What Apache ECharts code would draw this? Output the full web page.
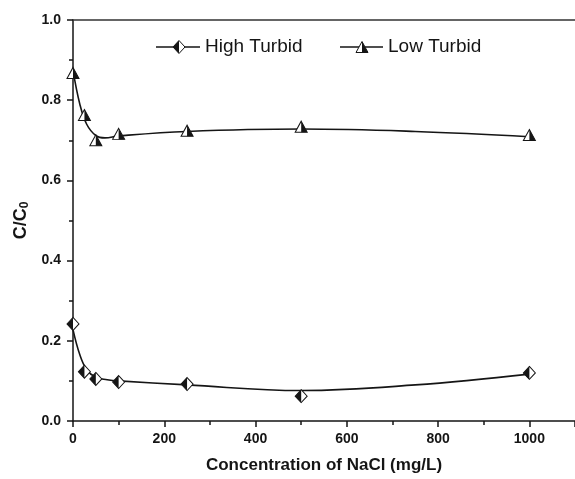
<!DOCTYPE html>
<html>
<head>
<meta charset="utf-8">
<script src="https://cdn.jsdelivr.net/npm/echarts@6/dist/echarts.min.js"></script>
<style>
  html, body { margin: 0; padding: 0; background: #fff; }
  #chart { width: 575px; height: 479px; }
</style>
</head>
<body>
<div id="chart"></div>
<script>
// measured points
const concX = [0, 25, 50, 100, 250, 500, 1000];
const highTurbid = [0.242, 0.123, 0.105, 0.097, 0.092, 0.062, 0.120];
const lowTurbid = [0.868, 0.763, 0.700, 0.716, 0.724, 0.734, 0.713];

// fitted curves
const highFitX = [0, 15, 30, 50, 75, 100, 250, 500, 750, 1000];
const highFitY = [0.228, 0.165, 0.128, 0.109, 0.103, 0.100, 0.090, 0.076, 0.090, 0.117];
const lowFitX = [0, 15, 30, 50, 70, 100, 250, 500, 750, 1000];
const lowFitY = [0.875, 0.790, 0.740, 0.712, 0.706, 0.711, 0.722, 0.728, 0.722, 0.709];

const xTicks = [0, 200, 400, 600, 800, 1000];

const pairs = (xs, ys) => xs.map((x, i) => [x, ys[i]]);
const INK = '#151515';
const FONT = 'Liberation Sans, Arial, sans-serif';

const chart = echarts.init(document.getElementById('chart'), null, { renderer: 'canvas' });

const fitLine = (name, xs, ys) => ({
  name: name,
  type: 'line',
  data: pairs(xs, ys),
  smooth: 0.4,
  symbol: 'none',
  lineStyle: { color: INK, width: 1.6 },
  z: 2,
  silent: true
});

chart.setOption({
  backgroundColor: '#fff',
  animation: false,
  textStyle: { fontFamily: FONT },
  grid: { left: 73, right: -4, top: 20, bottom: 58 },
  xAxis: [{
    type: 'value',
    min: 0,
    max: 1100,
    interval: 200,
    name: 'Concentration of NaCl (mg/L)',
    nameLocation: 'middle',
    nameGap: 36,
    nameTextStyle: { fontSize: 17, fontWeight: 'bold', color: INK, fontFamily: FONT },
    axisLine: { lineStyle: { color: INK, width: 1.5 } },
    axisTick: { length: 6, lineStyle: { color: INK, width: 1.5 } },
    minorTick: { show: true, splitNumber: 2, length: 4, lineStyle: { color: INK, width: 1.5 } },
    axisLabel: {
      margin: 11, fontSize: 14, fontWeight: 'bold', color: INK, showMaxLabel: false,
      formatter: v => xTicks.includes(v) ? String(v) : ''
    },
    splitLine: { show: false }
  }, {
    type: 'value',
    position: 'top',
    min: 0,
    max: 1100,
    axisLine: { show: true, lineStyle: { color: '#333', width: 1.5 } },
    axisTick: { show: false },
    axisLabel: { show: false },
    splitLine: { show: false }
  }],
  yAxis: {
    type: 'value',
    min: 0,
    max: 1,
    interval: 0.2,
    name: '{a|C/C}{b|0}',
    nameLocation: 'middle',
    nameGap: 40,
    nameRotate: 90,
    nameTextStyle: {
      color: INK,
      rich: {
        a: { fontSize: 18, fontWeight: 'bold', fontFamily: FONT, color: INK },
        b: { fontSize: 12, fontWeight: 'bold', fontFamily: FONT, color: INK, verticalAlign: 'bottom', padding: [8, 0, 0, 0] }
      }
    },
    axisLine: { show: true, lineStyle: { color: INK, width: 1.5 } },
    axisTick: { length: 6, lineStyle: { color: INK, width: 1.5 } },
    minorTick: { show: true, splitNumber: 2, length: 4, lineStyle: { color: INK, width: 1.5 } },
    axisLabel: { margin: 12, fontSize: 14, fontWeight: 'bold', color: INK, formatter: v => v.toFixed(1) },
    splitLine: { show: false }
  },
  series: [
    fitLine('High Turbid fit', highFitX, highFitY),
    fitLine('Low Turbid fit', lowFitX, lowFitY),
    {
      name: 'High Turbid',
      type: 'scatter',
      data: pairs(concX, highTurbid),
      symbol: 'diamond',
      symbolSize: [12, 13],
      itemStyle: { color: '#fff', borderColor: INK, borderWidth: 1, opacity: 1 },
      z: 3
    },
    {
      name: 'High Turbid half',
      type: 'scatter',
      data: pairs(concX, highTurbid),
      symbol: 'path://M5,0 L0,5 L5,10 Z',
      symbolSize: [6, 13],
      symbolOffset: [-3, 0],
      itemStyle: { color: INK, opacity: 1 },
      z: 4
    },
    {
      name: 'Low Turbid',
      type: 'scatter',
      data: pairs(concX, lowTurbid),
      symbol: 'triangle',
      symbolSize: [12, 11],
      itemStyle: { color: '#fff', borderColor: INK, borderWidth: 1, opacity: 1 },
      z: 3
    },
    {
      name: 'Low Turbid half',
      type: 'scatter',
      data: pairs(concX, lowTurbid),
      symbol: 'path://M0,0 L5,10 L0,10 Z',
      symbolSize: [6, 11],
      symbolOffset: [3, 0],
      itemStyle: { color: INK, opacity: 1 },
      z: 4
    }
  ],
  graphic: [
    // legend: High Turbid
    { type: 'line', shape: { x1: 156, y1: 47, x2: 200, y2: 47 }, style: { stroke: INK, lineWidth: 1.6 } },
    { type: 'polygon', shape: { points: [[179, 40.5], [185, 47], [179, 53.5], [173, 47]] }, style: { fill: '#fff', stroke: INK, lineWidth: 1 } },
    { type: 'polygon', shape: { points: [[179, 40.5], [173, 47], [179, 53.5]] }, style: { fill: INK } },
    { type: 'text', left: 205, top: 37, style: { text: 'High Turbid', fontSize: 19, fontFamily: FONT, fill: INK } },
    // legend: Low Turbid
    { type: 'line', shape: { x1: 340, y1: 47, x2: 383, y2: 47 }, style: { stroke: INK, lineWidth: 1.6 } },
    { type: 'polygon', shape: { points: [[362, 41.5], [368, 52.5], [356, 52.5]] }, style: { fill: '#fff', stroke: INK, lineWidth: 1 } },
    { type: 'polygon', shape: { points: [[362, 41.5], [368, 52.5], [362, 52.5]] }, style: { fill: INK } },
    { type: 'text', left: 388, top: 37, style: { text: 'Low Turbid', fontSize: 19, fontFamily: FONT, fill: INK } }
  ]
});
</script>
</body>
</html>
